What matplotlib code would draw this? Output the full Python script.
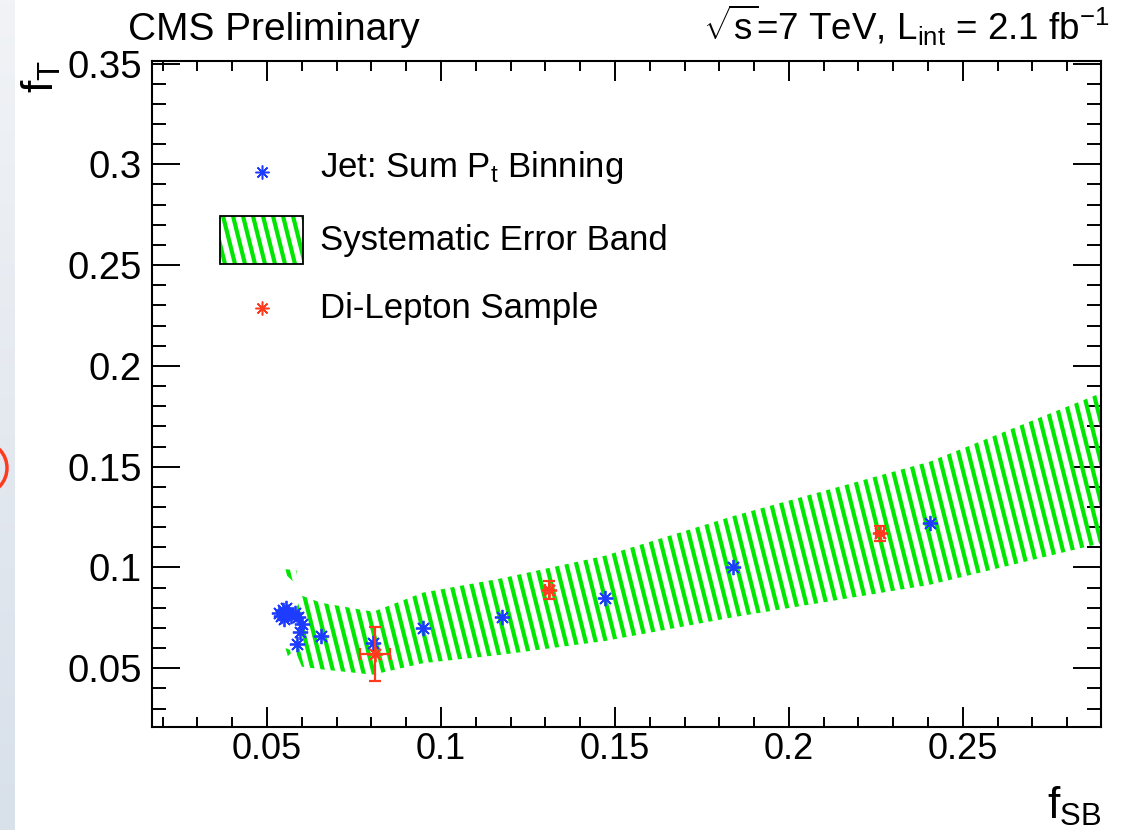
import numpy as np
import matplotlib
matplotlib.use('Agg')
import matplotlib.pyplot as plt
from matplotlib.collections import LineCollection
from matplotlib.patches import Polygon, Rectangle, Arc
from matplotlib.transforms import IdentityTransform
from matplotlib.colors import LinearSegmentedColormap
from matplotlib.ticker import MultipleLocator

plt.rcParams['font.family'] = ['Liberation Sans', 'DejaVu Sans']
plt.rcParams['mathtext.fontset'] = 'custom'
plt.rcParams['mathtext.rm'] = 'Liberation Sans'
plt.rcParams['mathtext.it'] = 'Liberation Sans:italic'
plt.rcParams['mathtext.bf'] = 'Liberation Sans:bold'

# ---------------- data ----------------
jet_x = [0.0535, 0.0540, 0.0545, 0.0550, 0.0555, 0.0560, 0.0570, 0.0580, 0.0590,
         0.0600, 0.0595, 0.0585, 0.0655, 0.0805, 0.0948, 0.1174, 0.1471, 0.1840, 0.2405]
jet_y = [0.0775, 0.0760, 0.0790, 0.0745, 0.0800, 0.0770, 0.0760, 0.0775, 0.0755,
         0.0720, 0.0680, 0.0620, 0.0660, 0.0624, 0.0700, 0.0756, 0.0847, 0.1004, 0.1219]

dilep_x = [0.0810, 0.1311, 0.2262]
dilep_y = [0.0569, 0.0888, 0.1170]
dilep_xerr = [0.0043, 0.0012, 0.0012]
dilep_yerr = [0.0134, 0.0044, 0.0037]

band_x  = [0.0585, 0.0600, 0.0655, 0.0805, 0.0948, 0.1174, 0.1471, 0.1840, 0.2405, 0.2897]
band_up = [0.0800, 0.0860, 0.0825, 0.0780, 0.0875, 0.0946, 0.1058, 0.1255, 0.1525, 0.1865]
band_lo = [0.0570, 0.0508, 0.0495, 0.0468, 0.0525, 0.0567, 0.0635, 0.0753, 0.0914, 0.1120]

# small stray pieces of the band at the left end
frag1_x = [0.0535, 0.0585, 0.0585]
frag1_y = [0.0995, 0.0985, 0.0915]
frag2_x = [0.0553, 0.0575, 0.0560]
frag2_y = [0.0600, 0.0585, 0.0560]

xticks = [0.05, 0.10, 0.15, 0.20, 0.25]
xticklabels = ['0.05', '0.1', '0.15', '0.2', '0.25']
yticks = [0.05, 0.10, 0.15, 0.20, 0.25, 0.30, 0.35]
yticklabels = ['0.05', '0.1', '0.15', '0.2', '0.25', '0.3', '0.35']

legend_labels = [r'Jet: Sum P$_{\mathrm{t}}$ Binning', 'Systematic Error Band', 'Di-Lepton Sample']

# ---------------- style ----------------
W, H = 1124, 830
BLUE = '#1e3cff'
RED = '#ff3a1e'
GREEN = '#00e600'
ast = (8, 2, 0)

fig = plt.figure(figsize=(W / 100, H / 100), dpi=100)

# background decoration (slide edge)
bg = fig.add_axes([0, 0, 1, 1], zorder=0)
bg.patch.set_visible(False)
grad = np.linspace(0, 1, 200).reshape(-1, 1)
cmap = LinearSegmentedColormap.from_list('g', ['#f1f3f6', '#d8e0ea'])
bg.imshow(grad, extent=[0, 15, H, 0], cmap=cmap, aspect='auto', zorder=0)
bg.add_patch(Arc((-16, 468), 46, 50, theta1=-90, theta2=90, color='#ff3b1f', lw=2.5))
bg.set_xlim(0, W)
bg.set_ylim(H, 0)
bg.axis('off')

ax_l, ax_r, ax_t, ax_b = 152, 1101, 60.7, 726.7
ax = fig.add_axes([ax_l / W, 1 - ax_b / H, (ax_r - ax_l) / W, (ax_b - ax_t) / H], zorder=1)

# stripe generator in display pixels
k = 0.25
step = 10.0
LW = 3.0


def stripes(x0, x1, y0, y1):
    h = y1 - y0 + 40
    segs = []
    c = x0 - 20
    while c < x1 + k * h + 20:
        segs.append([(c, y0 - 20), (c - k * h, y1 + 20)])
        c += step
    return segs


band_segs = stripes(ax_l, ax_r, H - ax_b, H - ax_t)

band_poly = list(zip(band_x, band_up)) + list(zip(band_x[::-1], band_lo[::-1]))
pieces = [band_poly, list(zip(frag1_x, frag1_y)), list(zip(frag2_x, frag2_y))]
for verts in pieces:
    poly = Polygon(verts, closed=True, transform=ax.transData,
                   facecolor='none', edgecolor='none')
    ax.add_patch(poly)
    lc = LineCollection(band_segs, colors=GREEN, linewidths=LW,
                        transform=IdentityTransform(), zorder=2)
    ax.add_collection(lc, autolim=False)
    lc.set_clip_path(poly)

# data points
ax.plot(jet_x, jet_y, linestyle='none', marker=ast, markersize=11,
        markeredgewidth=1.3, color=BLUE, zorder=3)
ax.errorbar(dilep_x, dilep_y, xerr=dilep_xerr, yerr=dilep_yerr, fmt='none',
            ecolor=RED, elinewidth=1.6, capsize=4, capthick=1.6, zorder=4)
ax.plot(dilep_x, dilep_y, linestyle='none', marker=ast, markersize=11,
        markeredgewidth=1.3, color=RED, zorder=5)

# legend (manual, ROOT-like)
ax.plot([0.116], [0.833], transform=ax.transAxes, marker=ast, markersize=10,
        markeredgewidth=1.1, color=BLUE, clip_on=False, linestyle='none')
ax.plot([0.116], [0.628], transform=ax.transAxes, marker=ast, markersize=10,
        markeredgewidth=1.1, color=RED, clip_on=False, linestyle='none')
rx0, ry0, rw, rh = 0.0717, 0.695, 0.0875, 0.072
rect_clip = Rectangle((rx0, ry0), rw, rh, transform=ax.transAxes,
                      facecolor='none', edgecolor='none')
ax.add_patch(rect_clip)
lg_segs = stripes(220, 303, H - 264, H - 216)
lc2 = LineCollection(lg_segs, colors=GREEN, linewidths=LW,
                     transform=IdentityTransform(), zorder=2)
ax.add_collection(lc2, autolim=False)
lc2.set_clip_path(rect_clip)
ax.add_patch(Rectangle((rx0, ry0), rw, rh, transform=ax.transAxes,
                       facecolor='none', edgecolor='black', lw=1.3, zorder=3))
for yb, lab in zip([0.826, 0.716, 0.613], legend_labels):
    ax.text(0.177, yb, lab, transform=ax.transAxes, fontsize=25,
            ha='left', va='baseline')

# axes
ax.set_xticks(xticks)
ax.set_xticklabels(xticklabels)
ax.set_yticks(yticks)
ax.set_yticklabels(yticklabels)
ax.xaxis.set_minor_locator(MultipleLocator(0.01))
ax.yaxis.set_minor_locator(MultipleLocator(0.01))
ax.tick_params(axis='x', which='major', direction='in', top=True, bottom=True,
               length=14.4, width=1.4, labelsize=26, pad=3.5)
ax.tick_params(axis='x', which='minor', direction='in', top=True, bottom=True,
               length=7.2, width=1.4)
ax.tick_params(axis='y', which='major', direction='in', left=True, right=True,
               length=20, width=1.4, labelsize=27.5, pad=7.2)
ax.tick_params(axis='y', which='minor', direction='in', left=True, right=True,
               length=10, width=1.4)
for s in ax.spines.values():
    s.set_linewidth(1.5)
ax.set_xlim(0.01695, 0.2897)
ax.set_ylim(0.0210, 0.3514)

# texts
fig.text(128 / W, 1 - 40 / H, 'CMS Preliminary', fontsize=28, ha='left', va='baseline')
fig.text(1110 / W, 1 - 40 / H,
         r'$\sqrt{\mathrm{s}}$=7 TeV, L$_{\mathrm{int}}$ = 2.1 fb$^{\mathrm{-1}}$',
         fontsize=26.5, ha='right', va='baseline')
fig.text(1102 / W, 1 - 819 / H, r'$\mathrm{f}_{\mathrm{SB}}$', fontsize=32,
         ha='right', va='baseline')
fig.text(63 / W, 1 - 60 / H, r'$\mathrm{f}_{\mathrm{T}}$', fontsize=32,
         rotation=90, ha='right', va='top')

fig.savefig('out.png', dpi=100)
